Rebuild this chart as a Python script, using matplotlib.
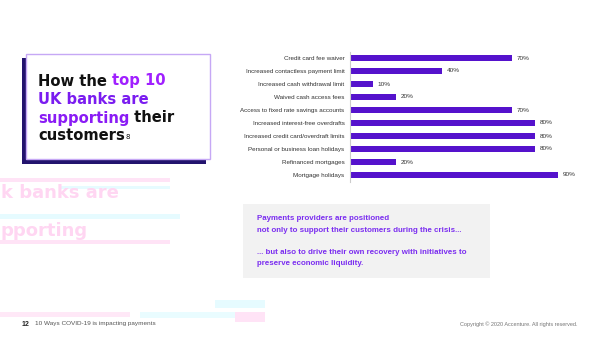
import matplotlib
matplotlib.use('Agg')
import matplotlib.pyplot as plt
from matplotlib.patches import Rectangle

# data
categories = ['Credit card fee waiver', 'Increased contactless payment limit',
              'Increased cash withdrawal limit', 'Waived cash access fees',
              'Access to fixed rate savings accounts', 'Increased interest-free overdrafts',
              'Increased credit card/overdraft limits', 'Personal or business loan holidays',
              'Refinanced mortgages', 'Mortgage holidays']
values = [70, 40, 10, 20, 70, 80, 80, 80, 20, 90]

title_lines = [[('How the ', '#111111'), ('top 10', '#a020ff')],
               [('UK banks are', '#7a1cf0')],
               [('supporting', '#8a1cf5'), (' their', '#111111')],
               [('customers', '#111111')]]
callout_lines = ['Payments providers are positioned',
                 'not only to support their customers during the crisis...',
                 '',
                 '... but also to drive their own recovery with initiatives to',
                 'preserve economic liquidity.']
footer_left = '10 Ways COVID-19 is impacting payments'
footer_right = 'Copyright \u00a9 2020 Accenture. All rights reserved.'

W, H = 600, 337
fig = plt.figure(figsize=(6, 3.37), dpi=100)
fig.patch.set_facecolor('white')
LS = 'Liberation Sans'

def fx(px):
    return px / W

def fy(py):
    return 1 - py / H

# faint glitch decoration in background
bg = fig.add_axes([0, 0, 1, 1], zorder=0)
bg.set_xlim(0, W)
bg.set_ylim(H, 0)
bg.axis('off')
for (x, y, w, h, c) in [(0, 178, 170, 4, '#ffe3f6'), (60, 186, 110, 3, '#e6fbff'),
                        (0, 214, 180, 5, '#e6fbff'), (0, 240, 170, 4, '#ffe3f6'),
                        (140, 312, 120, 6, '#e9fcff'), (235, 312, 30, 10, '#ffe3f6'),
                        (215, 300, 50, 8, '#e6fbff'), (0, 312, 130, 5, '#ffe8f7')]:
    bg.add_patch(Rectangle((x, y), w, h, color=c, lw=0))
bg.text(1, 193, 'k banks are', fontsize=13, fontweight='bold', color='#ffd6f2',
        va='center', ha='left')
bg.text(1, 231, 'pporting', fontsize=13, fontweight='bold', color='#ffd6f2',
        va='center', ha='left')

# title box with shadow
bg.add_patch(Rectangle((22, 58), 184, 106, color='#23136e', lw=0, zorder=2))
bg.add_patch(Rectangle((26, 54), 184, 105, facecolor='white', edgecolor='#c6a8f5',
                       lw=1.0, zorder=3))

renderer = fig.canvas.get_renderer()
line_y = [81, 100, 118, 136]
for line, yy in zip(title_lines, line_y):
    x = 38
    for txt, col in line:
        t = bg.text(x, yy, txt, fontsize=10.6, fontweight='bold', color=col,
                    va='center', ha='left', zorder=4)
        bb = t.get_window_extent(renderer=renderer)
        x += bb.width
    if line[0][0] == 'customers':
        bg.text(x + 1, yy + 1, '8', fontsize=5, color='#111111', va='center', zorder=4)

# callout box
bg.add_patch(Rectangle((243, 204), 247, 74, color='#f2f2f2', lw=0, zorder=2))
for i, s in enumerate(callout_lines):
    bg.text(257, 219 + i * 11.2, s, fontsize=5.7, fontweight='bold', color='#7a2cf0',
            va='center', ha='left', zorder=4, family=LS)

# footer
bg.text(22, 324, '12', fontsize=5, fontweight='bold', color='#222222', va='center', family=LS)
bg.text(35, 324, footer_left, fontsize=4.6, color='#555555', va='center', family=LS)
bg.text(577, 324, footer_right, fontsize=4.0, color='#777777', va='center', ha='right',
        family=LS)

# bar chart
ax = fig.add_axes([fx(350), fy(181.5), fx(231), (181.5 - 51.5) / H], zorder=5)
ax.patch.set_alpha(0)
ypos = list(range(len(categories)))
ax.barh(ypos, values, height=0.52, color='#5512cc')
for y, v in zip(ypos, values):
    ax.text(v + 2, y, f'{v}%', va='center', ha='left', fontsize=4.6, color='#333333',
            family=LS)
ax.set_yticks(ypos)
ax.set_yticklabels(categories, fontsize=4.5, color='#333333', family=LS)
ax.tick_params(axis='y', length=0, pad=4)
ax.set_xticks([])
ax.set_xlim(0, 100)
ax.set_ylim(len(categories) - 0.5, -0.5)
for s in ['top', 'right', 'bottom']:
    ax.spines[s].set_visible(False)
ax.spines['left'].set_color('#cccccc')
ax.spines['left'].set_linewidth(0.8)

fig.savefig('out.png', dpi=100)
